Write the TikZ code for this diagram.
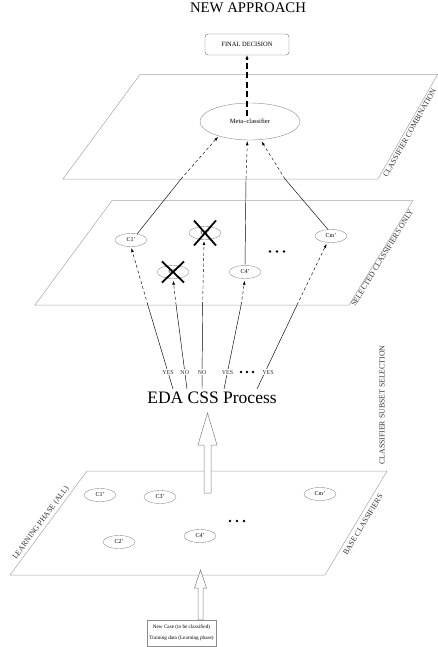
\documentclass[tikz,border=0pt]{standalone}
\usepackage{fontspec}
\setmainfont{Liberation Serif}
\usetikzlibrary{shapes.geometric,arrows.meta,calc}

\begin{document}
\begin{tikzpicture}[x=1pt,y=-1pt,
  plane/.style={draw=black!35,line width=0.5pt},
  clf/.style={ellipse,draw=black!45,line width=0.4pt,minimum width=32pt,
    minimum height=13pt,inner sep=0pt,font=\fontsize{6}{7}\selectfont},
  planelabel/.style={font=\fontsize{7.8}{9}\selectfont,inner sep=0pt,text=black!80},
  link/.style={line width=0.45pt},
  hidden/.style={link,dash pattern=on 3pt off 2.5pt,-{Latex[length=4pt,width=2.8pt]}},
  vote/.style={fill=white,inner sep=1pt,font=\fontsize{6}{7}\selectfont,text=black!80},
  xmark/.style={line width=1.8pt},
  hollow/.style={draw=black!50,fill=white,line width=0.5pt},
  decision/.style={line width=1.5pt,dash pattern=on 6pt off 3.5pt,
    -{Latex[length=4pt,width=3.5pt]}},
  dotmark/.style={fill=black}
]
\useasboundingbox (0,0) rectangle (438,647);

% title and final output
\node[font=\fontsize{14.75}{16}\selectfont,anchor=base] (title) at (248,12.5) {NEW APPROACH};
\node[draw=black!60,rounded corners=3pt,minimum width=84pt,minimum height=21pt,
  inner sep=0pt,font=\fontsize{6.5}{8}\selectfont] (final) at (247,44.5) {FINAL DECISION};

% ---------------- combination layer ----------------
\draw[plane] (140,74.5) -- (437.5,74.5) -- (378,179) -- (63,179) -- cycle;
\node[ellipse,draw=black!45,line width=0.4pt,minimum width=100pt,minimum height=37pt,
  inner sep=0pt,font=\fontsize{6.5}{8}\selectfont] (meta) at (250,121.5) {Meta--classifier};
\node[planelabel,rotate=60.5,anchor=base west] (lblcomb) at (387,178) {CLASSIFIER COMBINATION};

% ---------------- selected layer ----------------
\draw[plane] (112,200.5) -- (413,200.5) -- (349,305) -- (35,305) -- cycle;
\node[clf] (m1) at (131,240) {C1'};
\node[clf] (m3) at (205,233) {C3'};
\node[clf] (m2) at (173,272) {C2'};
\node[clf] (m4) at (245,272) {C4'};
\node[clf] (m5) at (331,236) {Cm'};
\foreach \x in {270,277,284} \fill[dotmark] (\x,251.5) circle (1.3);
\node[planelabel,rotate=58.5,anchor=base west] (lblsel) at (355,307) {SELECTED CLASSIFIERS ONLY};

% rejected classifiers
\draw[xmark] ([shift={(-11,-12.5)}]m3.center) -- ([shift={(11,12.5)}]m3.center);
\draw[xmark] ([shift={(11,-12.5)}]m3.center) -- ([shift={(-11,12.5)}]m3.center);
\draw[xmark] ([shift={(-11,-10.5)}]m2.center) -- ([shift={(11,10.5)}]m2.center);
\draw[xmark] ([shift={(11,-10.5)}]m2.center) -- ([shift={(-11,10.5)}]m2.center);

% selected classifiers feed the meta-classifier
\coordinate (t1) at (181,179);
\coordinate (t4) at (246,179);
\coordinate (t5) at (285,179);
\draw[link] (m1.45) -- (t1);
\draw[hidden,shorten >=1pt] (t1) -- (meta.205);
\draw[link] (m4.north) -- (t4);
\draw[hidden,shorten >=1pt] (t4) -- (meta.262);
\draw[link] (m5.115) -- (t5);
\draw[hidden,shorten >=2pt] (t5) -- (meta.300);

% meta-classifier output
\coordinate (mtop) at ($(final.south |- meta.center)+(0,-5)$);
\draw[decision] (mtop) -- (final.south);

% ---------------- subset selection ----------------
\node[font=\fontsize{17.5}{20}\selectfont,anchor=base,inner sep=0pt] (eda) at (212,403) {EDA CSS Process};
\coordinate (s1) at (173,389);
\coordinate (s2) at (187,389);
\coordinate (s3) at (202,389);
\coordinate (s4) at (224,389);
\coordinate (s5) at (257,389);
\coordinate (e1) at (147.8,305);
\coordinate (e2) at (176.1,305);
\coordinate (e3) at (202.6,305);
\coordinate (e4) at (241.1,305);
\coordinate (e5) at (297,305);
\draw[link] (s1) -- node[vote,pos=0.2] (v1) {YES} (e1);
\draw[link] (s2) -- node[vote,pos=0.2] (v2) {NO} (e2);
\draw[link] (s3) -- node[vote,pos=0.2] (v3) {NO} (e3);
\draw[link] (s4) -- node[vote,pos=0.2] (v4) {YES} (e4);
\draw[link] (s5) -- node[vote,pos=0.2,xshift=3pt] (v5) {YES} (e5);
\foreach \x in {241,247,253} \fill[dotmark] (\x,372) circle (1.3);
\draw[hidden,shorten >=1.5pt] (e1) -- (m1.south);
\draw[hidden,shorten >=2pt] (e2) -- (m2.south);
\draw[hidden,shorten >=1.5pt] (e3) -- (m3.262);
\draw[hidden,shorten >=2pt] (e4) -- (m4.south);
\draw[hidden,shorten >=1.5pt] (e5) -- (m5.240);
\node[planelabel,rotate=90] (lblcss) at (382,405) {CLASSIFIER SUBSET SELECTION};

% ---------------- base layer ----------------
\draw[plane] (87,471) -- (387,471) -- (325,575) -- (10,575) -- cycle;
\node[clf] (b1) at (100,495) {C1'};
\node[clf] (b3) at (160,497) {C3'};
\node[clf] (bm) at (320,494) {Cm'};
\node[clf] (b2) at (119,542) {C2'};
\node[clf] (b4) at (200,536) {C4'};
\foreach \x in {230,237,244} \fill[dotmark] (\x,521) circle (1.3);
\node[planelabel,rotate=59,anchor=base west] (lblbase) at (347,556) {BASE CLASSIFIERS};
\node[planelabel,rotate=53.5,anchor=base west] (lbllearn) at (16,560) {LEARNING PHASE (ALL)};

% base layer -> selection process
\coordinate (upfoot) at (207.5,493);
\coordinate (uptip) at (207.5,413);
\draw[hollow] ($(upfoot)+(-3.5,0)$) -- ($(uptip)+(-3.5,32)$) -- ($(uptip)+(-9.5,32)$)
  -- (uptip) -- ($(uptip)+(9.5,32)$) -- ($(uptip)+(3.5,32)$) -- ($(upfoot)+(3.5,0)$) -- cycle;

% input data
\node[draw=black!45,line width=0.4pt,minimum width=69pt,minimum height=26pt,inner sep=0pt,
  align=center,font=\fontsize{5.2}{11}\selectfont] (input) at (181.5,633)
  {New Case (to be classified)\\Training data (Learning phase)};
\coordinate (intip) at (200.5,570);
\coordinate (infoot) at (input.north -| intip);
\draw[hollow] ($(infoot)+(-2.5,0)$) -- ($(intip)+(-2.5,18)$) -- ($(intip)+(-6,18)$)
  -- (intip) -- ($(intip)+(6,18)$) -- ($(intip)+(2.5,18)$) -- ($(infoot)+(2.5,0)$) -- cycle;
\end{tikzpicture}
\end{document}
